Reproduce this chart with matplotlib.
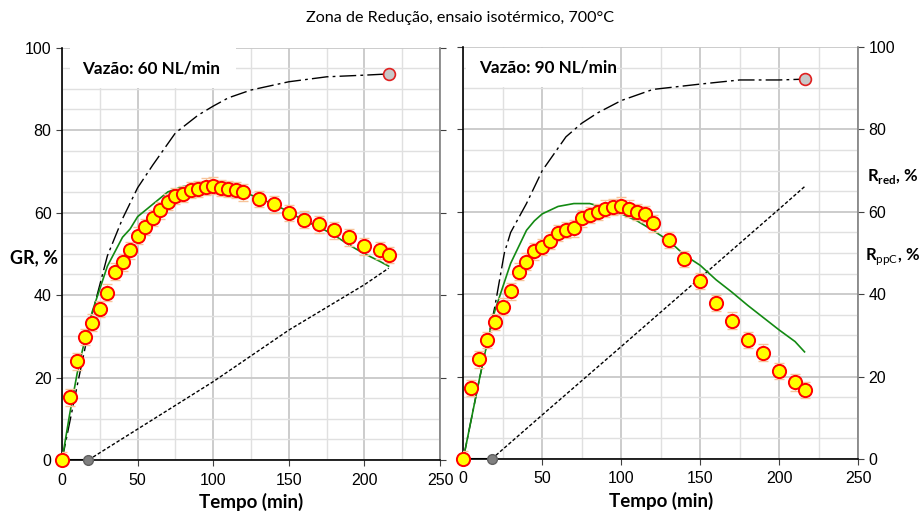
import matplotlib.pyplot as plt
from matplotlib.ticker import MultipleLocator

# tempos de medição (min)
tempo = [0, 5, 10, 15, 20, 25, 30, 35, 40, 45, 50, 55, 60, 65, 70, 75, 80, 85, 90,
         95, 100, 105, 110, 115, 120, 130, 140, 150, 160, 170, 180, 190, 200, 210, 216]

# GR experimental, %
gr_60 = [0, 15.2, 23.9, 29.8, 33.3, 36.6, 40.6, 45.7, 47.9, 50.8, 54.4, 56.5, 58.7, 60.5,
         62.5, 64.0, 64.5, 65.5, 65.7, 66.3, 66.5, 65.9, 65.7, 65.4, 64.9, 63.3, 62.0, 59.9,
         58.3, 57.1, 55.7, 54.0, 51.8, 50.8, 49.7]
gr_90 = [0, 17.2, 24.2, 28.9, 33.3, 37.0, 40.7, 45.5, 47.9, 50.4, 51.4, 53.0, 54.8, 55.6,
         56.0, 58.4, 59.2, 60.0, 60.8, 61.2, 61.5, 60.8, 60.0, 59.5, 57.2, 53.2, 48.5, 43.2,
         37.9, 33.6, 28.9, 25.8, 21.4, 18.6, 16.7]
erro = 2.0

# GR modelo (linha verde)
t_mod = [0, 5, 10, 15, 20, 30, 40, 45, 50, 60, 70, 80, 90, 100, 110, 120, 130, 140, 150,
         160, 170, 180, 190, 200, 210, 216]
mod_60 = [0, 11, 21, 29, 36, 47, 54, 56, 59, 62, 65, 66.3, 66.7, 66.4, 65.8, 65.0, 63.5,
          62.0, 60.2, 58.0, 56.5, 54.5, 52.1, 50.0, 48.2, 47.0]
mod_90 = [0, 9.5, 19, 28, 36, 47.5, 55.5, 57.8, 59.5, 61.3, 62.0, 62.0, 61.0, 59.5, 57.8,
          55.5, 53.0, 49.5, 47.0, 43.5, 40.5, 37.3, 34.3, 31.3, 28.5, 26.0]

# R_red (traço-ponto)
t_red_60 = [0, 10, 20, 30, 40, 50, 60, 75, 90, 100, 110, 125, 150, 175, 200, 216]
red_60 = [0, 18, 35.5, 49.5, 58.5, 66, 71.5, 79.3, 83.6, 85.8, 87.8, 89.7, 91.7, 92.9, 93.3, 93.6]
t_red_90 = [0, 10, 20, 26, 30, 40, 50, 65, 75, 85, 100, 120, 150, 175, 200, 216]
red_90 = [0, 19, 37, 50, 55, 62, 70, 78.2, 81.5, 84, 87, 89.7, 91, 92, 92, 92.2]

# R_ppC (tracejado)
t_ppc_60 = [17.4, 50, 100, 150, 200, 216]
ppc_60 = [0, 7.5, 19, 31.5, 42.5, 46.5]
t_ppc_90 = [18, 50, 100, 150, 200, 216]
ppc_90 = [0, 10.7, 27.3, 44, 60.7, 66.1]

plt.rcParams['font.family'] = ['Liberation Sans', 'DejaVu Sans']
plt.rcParams['mathtext.fontset'] = 'custom'
plt.rcParams['mathtext.rm'] = 'Lato'
plt.rcParams['mathtext.bf'] = 'Lato:bold'

fig = plt.figure(figsize=(9.19, 5.16), dpi=100)
ax1 = fig.add_axes([0.0675, 0.1085, 0.4113, 0.7994])
ax2 = fig.add_axes([0.5041, 0.1105, 0.4298, 0.7984])

paineis = [
    (ax1, gr_60, mod_60, t_red_60, red_60, t_ppc_60, ppc_60, 'Vazão: 60 NL/min', 5, 115),
    (ax2, gr_90, mod_90, t_red_90, red_90, t_ppc_90, ppc_90, 'Vazão: 90 NL/min', 2, 97),
]

for ax, gr, mod, tr, rr, tp, rp, rotulo, bx0, bx1 in paineis:
    ax.set_xlim(0, 250)
    ax.set_ylim(0, 100)
    ax.xaxis.set_major_locator(MultipleLocator(50))
    ax.xaxis.set_minor_locator(MultipleLocator(25))
    ax.yaxis.set_major_locator(MultipleLocator(20))
    ax.yaxis.set_minor_locator(MultipleLocator(5))
    ax.grid(which='minor', color='#e0e0e0', lw=1.0, zorder=0)
    ax.grid(which='major', color='#c8c8c8', lw=1.3, zorder=0)
    ax.set_axisbelow(True)

    for s in ['left', 'bottom']:
        ax.spines[s].set_color('black')
        ax.spines[s].set_linewidth(1.2)
    ax.spines['right'].set_color('#7f7f7f')
    ax.spines['right'].set_linewidth(1.2)
    ax.spines['top'].set_visible(False)
    ax.tick_params(which='major', direction='out', length=4, color='#404040',
                   labelsize=11.5, right=True)
    ax.tick_params(which='minor', length=0)
    ax.tick_params(axis='x', pad=5)

    # caixa do rótulo
    ax.fill_between([bx0, bx1], 90.2, 99.8, color='white', zorder=1.5, lw=0)
    ax.text(bx0 + 8, 95, rotulo, fontsize=12.3, fontweight='bold', family='Lato',
            va='center', ha='left', zorder=6)

    ax.plot(tr, rr, color='black', lw=1.0, dashes=(12, 3, 2, 3), zorder=3)
    ax.plot(tp, rp, color='black', lw=1.0, dashes=(2.5, 1.5), zorder=3)
    ax.plot([0, tp[0]], [0, 0], color='black', lw=1.5, zorder=3)
    ax.plot(t_mod, mod, color='#138a13', lw=1.2, zorder=4)
    ax.errorbar(tempo, gr, yerr=erro, fmt='none', ecolor='#f7c49a', elinewidth=1.0,
                capsize=3.5, capthick=1.0, zorder=4.5)
    ax.plot(tempo, gr, 'o', ms=9.5, mfc='#ffff00', mec='#ff0000', mew=1.4, zorder=5,
            clip_on=False)
    ax.plot(tp[0], 0, 'o', ms=7, mfc='#808080', mec='#606060', mew=1.0, zorder=5,
            clip_on=False)
    ax.plot(tr[-1], rr[-1], 'o', ms=8.5, mfc='#c8c8c8', mec='#e02020', mew=1.2, zorder=5)

    ax.set_xlabel('Tempo (min)', fontsize=13.5, fontweight='bold', family='Lato', labelpad=4)

ax1.tick_params(axis='y', labelleft=True, labelright=False)
ax2.tick_params(axis='y', labelleft=False, labelright=True, left=True)

fig.text(0.5, 0.965, 'Zona de Redução, ensaio isotérmico, 700°C', ha='center', va='center',
         fontsize=11.6, family='Lato')
fig.text(0.0365, 0.50, 'GR, %', ha='center', va='center', fontsize=13,
         fontweight='bold', family='Lato')
fig.text(0.971, 0.658, r'R$_{\mathbf{red}}$, %', ha='center', va='center', fontsize=12,
         fontweight='bold', family='Lato')
fig.text(0.971, 0.503, r'R$_{\mathrm{ppC}}$, %', ha='center', va='center', fontsize=12,
         fontweight='bold', family='Lato')

fig.savefig('out.png', dpi=100)
